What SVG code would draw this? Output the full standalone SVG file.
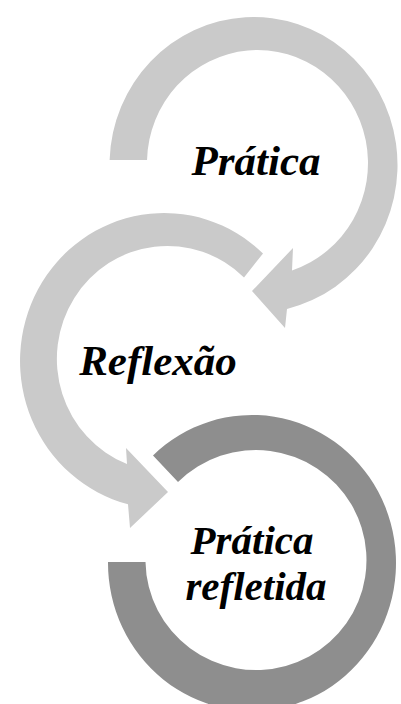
<svg xmlns="http://www.w3.org/2000/svg" width="401" height="704" viewBox="0 0 401 704">
<style>
.light{fill:#cacaca;}
.dark{fill:#8e8e8e;}
.lbl{font-family:"Liberation Serif","Times New Roman",serif;font-weight:bold;font-style:italic;font-size:43px;fill:#000;text-anchor:middle;}
.lbl2{font-family:"Liberation Serif","Times New Roman",serif;font-weight:bold;font-style:italic;font-size:41px;fill:#000;text-anchor:middle;}
</style>
<rect width="401" height="704" fill="#ffffff"/>
<g id="node-reflexao">
<path class="light" d="M263,253.5 A144,148 0 1 0 128,504.3 L130,528 L168,492 L126,448 L127,464.1 A110.5,113 0 1 1 244,277.5 Z"/>
<text class="lbl" x="158" y="375">Reflexão</text>
</g>
<g id="node-pratica">
<path class="light" d="M109.6,160 A144,148 0 1 1 287,308.9 L285,328 L252,291 L293,248 L292,270.4 A110.5,113 0 1 0 147.04,160 Z"/>
<text class="lbl" x="256" y="175">Prática</text>
</g>
<g id="node-pratica-refletida">
<path class="dark" d="M153,455.5 A144,148 0 1 1 108,562 L145.5,562 A110.5,110 0 1 0 178,482.1 Z"/>
<text class="lbl2" x="252" y="554">Prática</text>
<text class="lbl2" x="256" y="600">refletida</text>
</g>
<g id="connectors"></g>
</svg>
